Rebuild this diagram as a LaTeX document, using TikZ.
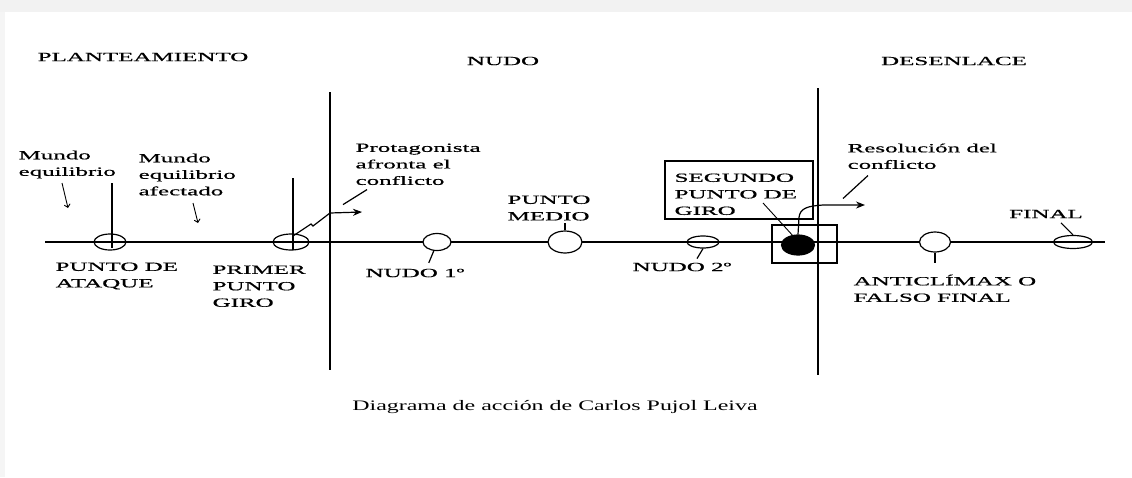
\documentclass[tikz,border=0pt]{standalone}
\usepackage{fontspec}
\setmainfont{Liberation Serif}
\newfontfamily\anchafont[FakeStretch=2,FakeBold=0.6]{Liberation Serif}
\newfontfamily\piefont[FakeStretch=1.65]{Liberation Serif}
\usetikzlibrary{shapes.geometric,arrows.meta}

\begin{document}
\begin{tikzpicture}[x=1pt, y=-1pt, line width=1.2pt,
		punto/.style={draw, ellipse, inner sep=0pt},
		hueco/.style={punto, fill=white},
		etiq/.style={font=\anchafont\fontsize{12.5}{16.5}\selectfont, inner sep=0pt, align=left},
		flecha/.style={-{Stealth[length=9pt,width=7pt]}},
		marca/.style={-{Straight Barb[length=3pt,width=6pt]}, line width=.9pt}]
				\useasboundingbox (0,0) rectangle (1132,477);
				\fill[black!5] (0,0) rectangle (1132,12);
				\fill[black!4] (0,12) rectangle (5,477);
				\node[etiq] (plant) at (143,57) {PLANTEAMIENTO};
				\node[etiq] (nudo) at (503,61) {NUDO};
				\node[etiq] (desen) at (954,61) {DESENLACE};
				\draw (330,92) -- (330,370);
				\draw (818,88) -- (818,375);
				\draw (45,242) -- (1105,242);
				\node[punto, minimum width=32pt, minimum height=16pt] (ataque) at (110,242) {};
				\node[punto, minimum width=36pt, minimum height=16pt] (primer) at (291,242) {};
				\node[hueco, minimum width=28pt, minimum height=17pt] (nudo1) at (437,242) {};
				\node[hueco, minimum width=34pt, minimum height=22pt] (medio) at (565,242) {};
				\node[punto, minimum width=32pt, minimum height=12pt] (nudo2) at (703,242) {};
				\node[draw, minimum width=65pt, minimum height=38pt, inner sep=0pt] (segpt) at (804.5,244) {};
				\node[punto, fill=black, minimum width=33pt, minimum height=20pt] (segundo) at (798,245) {};
				\node[hueco, minimum width=31pt, minimum height=20pt] (anticlimax) at (935,242) {};
				\node[punto, minimum width=39pt, minimum height=13pt] (final) at (1073,242) {};
				\draw ([xshift=2pt,yshift=59pt]ataque.center) -- ([xshift=2pt,yshift=-6pt]ataque.center);
				\draw ([xshift=2pt,yshift=64pt]primer.center) -- ([xshift=2pt,yshift=-8pt]primer.center);
				\node[etiq, anchor=north west] (mundoA) at (18,150) {Mundo\\equilibrio};
				\node[etiq, anchor=north west] (mundoB) at (138,153) {Mundo\\equilibrio\\afectado};
				\coordinate (mA) at (62,183);
				\coordinate (mB) at (193,203);
				\draw[marca] (mA) -- ++(6,25);
				\draw[marca] (mB) -- ++(5,20);
				\node[etiq, anchor=north west] (ataqueL) at (55,262) {PUNTO DE\\ATAQUE};
				\node[etiq, anchor=north west] (primerL) at (212,265) {PRIMER\\PUNTO\\GIRO};
				\node[etiq, anchor=north west] (protag) at (355,143) {Protagonista\\afronta el\\conflicto};
				\draw[flecha] ([xshift=2pt,yshift=6pt]primer.center) -- ++(18,-12) -- ++(2,2) -- (330,213) -- (362,212);
				\draw ([xshift=12pt,yshift=-4pt]protag.south west) -- ++(-24,15);
				\node[etiq] (nudo1L) at (415,273) {NUDO 1º};
				\draw (nudo1.250) -- ++(-5,12);
				\node[etiq, anchor=north west] (medioL) at (507,195) {PUNTO\\MEDIO};
				\draw (medio.north) -- ++(0,-7);
				\node[etiq] (nudo2L) at (682,267) {NUDO 2º};
				\draw (nudo2.south) -- ++(-6,10);
				\node[draw, minimum width=148pt, minimum height=58pt, inner sep=0pt] (segbox) at (739,190) {};
				\node[etiq, anchor=north west] (segL) at (674,173) {SEGUNDO\\PUNTO DE\\GIRO};
				\coordinate (segtail) at (763,203);
				\draw[line width=.9pt] (segtail) -- (segundo.120);
				\draw[flecha] (segundo.north) -- ++(1,-17) .. controls (800,208) and (808,206) .. (823,205) -- (865,205);
				\node[etiq, anchor=north west] (resol) at (847,143) {Resolución del\\conflicto};
				\draw ([xshift=21pt,yshift=-6pt]resol.south west) -- ++(-25,23);
				\node[etiq, anchor=north west] (anticL) at (853,274) {ANTICLÍMAX O\\FALSO FINAL};
				\draw (anticlimax.south) -- ++(0,10);
				\node[etiq] (finalL) at (1046,214) {FINAL};
				\draw (final.north) -- ++(-12,-12);
				\node[font=\piefont\fontsize{14.5}{17}\selectfont, inner sep=0pt] (pie) at (555,407) {Diagrama de acción de Carlos Pujol Leiva};
			\end{tikzpicture}
\end{document}
